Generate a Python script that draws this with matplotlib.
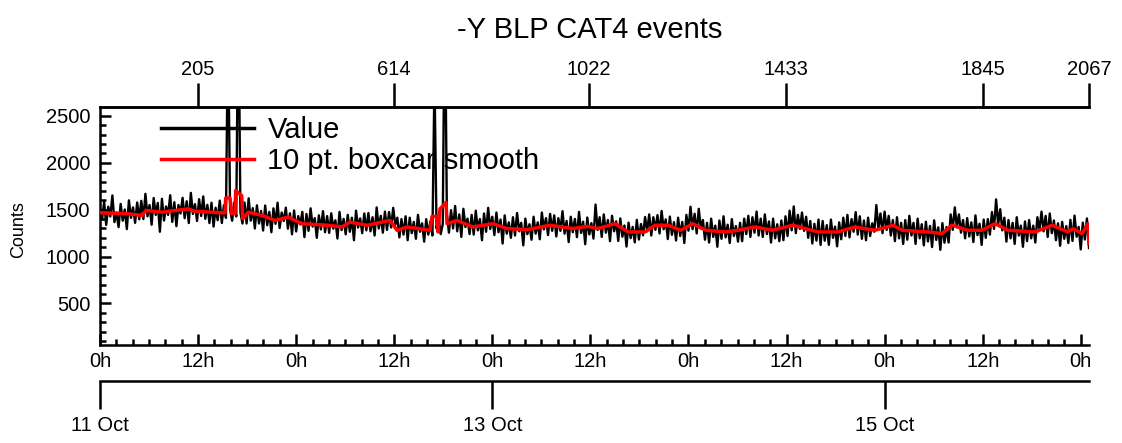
import numpy as np
import matplotlib
matplotlib.use('Agg')
import matplotlib.pyplot as plt
from matplotlib.ticker import MultipleLocator, NullLocator

plt.rcParams['font.family'] = ['Liberation Sans', 'DejaVu Sans']

title = '-Y BLP CAT4 events'
ylabel = 'Counts'
series_labels = ['Value', '10 pt. boxcar smooth']
t_end_hours = 121.0
n_samples = 2067

# raw counts (evenly spaced over the time span)
value_counts = [
    1517, 1398, 1585, 1338, 1532, 1428, 1652, 1368, 1472, 1315,
    1562, 1383, 1502, 1293, 1600, 1413, 1525, 1360, 1577, 1398,
    1595, 1400, 1670, 1430, 1550, 1340, 1625, 1445, 1572, 1265,
    1617, 1385, 1535, 1445, 1655, 1370, 1580, 1325, 1550, 1460,
    1627, 1410, 1590, 1358, 1680, 1455, 1560, 1380, 1612, 1433,
    1642, 1403, 1552, 1358, 1575, 1320, 1522, 1388, 1597, 1358,
    1547, 1413, 3500, 1502, 1383, 1577, 1428, 3900, 1472, 1353,
    1577, 1353, 1622, 1383, 1517, 1300, 1547, 1353, 1487, 1278,
    1545, 1335, 1477, 1260, 1515, 1350, 1575, 1305, 1470, 1380,
    1522, 1298, 1462, 1238, 1492, 1268, 1432, 1343, 1477, 1208,
    1455, 1275, 1515, 1320, 1410, 1200, 1440, 1290, 1485, 1260,
    1432, 1253, 1462, 1298, 1387, 1193, 1477, 1283, 1402, 1238,
    1445, 1265, 1415, 1175, 1490, 1310, 1407, 1250, 1460, 1280,
    1465, 1270, 1420, 1225, 1525, 1300, 1435, 1255, 1480, 1285,
    1475, 1310, 1520, 1340, 1415, 1205, 1400, 1235, 1430, 1175,
    1415, 1250, 1370, 1190, 1445, 1265, 1355, 1160, 1400, 1235,
    1375, 1225, 2900, 1300, 1420, 1240, 1345, 3900, 1450, 1255,
    1495, 1300, 1540, 1270, 1450, 1210, 1510, 1315, 1405, 1240,
    1445, 1235, 1490, 1280, 1400, 1175, 1460, 1265, 1520, 1295,
    1425, 1230, 1470, 1260, 1395, 1140, 1440, 1245, 1365, 1200,
    1420, 1225, 1465, 1270, 1360, 1120, 1405, 1240, 1345, 1180,
    1425, 1245, 1365, 1185, 1470, 1290, 1410, 1230, 1455, 1275,
    1440, 1215, 1410, 1275, 1485, 1245, 1380, 1155, 1425, 1260,
    1402, 1207, 1477, 1252, 1372, 1132, 1417, 1237, 1357, 1192,
    1555, 1285, 1420, 1210, 1450, 1255, 1390, 1165, 1435, 1270,
    1377, 1167, 1407, 1212, 1332, 1107, 1362, 1197, 1317, 1152,
    1392, 1182, 1347, 1227, 1422, 1270, 1450, 1225, 1420, 1285,
    1442, 1247, 1487, 1292, 1397, 1187, 1427, 1232, 1367, 1172,
    1415, 1220, 1370, 1145, 1445, 1277, 1532, 1292, 1457, 1247,
    1510, 1300, 1390, 1180, 1360, 1150, 1405, 1210, 1330, 1105,
    1385, 1190, 1430, 1205, 1340, 1145, 1400, 1220, 1325, 1160,
    1360, 1165, 1405, 1240, 1435, 1210, 1420, 1255, 1480, 1225,
    1405, 1210, 1450, 1240, 1375, 1150, 1405, 1195, 1345, 1165,
    1385, 1175, 1430, 1220, 1490, 1280, 1535, 1250, 1445, 1295,
    1470, 1275, 1425, 1200, 1380, 1140, 1350, 1170, 1395, 1125,
    1380, 1170, 1335, 1125, 1395, 1200, 1320, 1110, 1365, 1185,
    1415, 1220, 1445, 1205, 1400, 1265, 1475, 1235, 1430, 1190,
    1385, 1175, 1415, 1220, 1355, 1265, 1550, 1295, 1460, 1250,
    1480, 1285, 1435, 1225, 1390, 1165, 1420, 1195, 1360, 1135,
    1390, 1180, 1435, 1225, 1360, 1135, 1405, 1195, 1345, 1120,
    1372, 1162, 1327, 1102, 1387, 1178, 1312, 1072, 1357, 1148,
    1315, 1150, 1450, 1285, 1525, 1315, 1450, 1255, 1390, 1195,
    1410, 1215, 1365, 1155, 1440, 1230, 1350, 1125, 1395, 1200,
    1400, 1235, 1475, 1295, 1610, 1340, 1505, 1280, 1415, 1160,
    1390, 1195, 1360, 1135, 1420, 1225, 1330, 1105, 1375, 1165,
    1390, 1195, 1330, 1150, 1420, 1285, 1480, 1270, 1435, 1210,
    1460, 1250, 1385, 1175, 1355, 1115, 1370, 1190, 1325, 1145,
    1392, 1167, 1437, 1212, 1317, 1077, 1362, 1182, 1407, 1092,
]

# 10 pt boxcar smooth
smooth_hours = [
    0.0, 0.24, 3.43, 5.14, 5.63, 7.59, 10.77, 11.62, 14.93, 15.29,
    15.38, 15.91, 16.11, 16.52, 16.60, 17.34, 17.46, 18.14, 19.82, 21.41,
    23.00, 24.71, 27.90, 29.61, 30.59, 32.67, 35.48, 36.34, 37.56, 40.38,
    40.62, 41.23, 41.35, 41.60, 42.33, 42.46, 43.68, 45.64, 48.08, 49.80,
    52.24, 55.06, 57.87, 59.58, 60.93, 63.01, 64.60, 66.68, 67.90, 69.49,
    71.08, 72.52, 74.11, 76.47, 78.06, 80.14, 82.22, 84.79, 86.26, 87.85,
    90.29, 92.37, 94.82, 97.02, 98.12, 101.30, 103.02, 104.24, 106.20, 107.91,
    109.50, 111.09, 114.39, 116.48, 118.43, 119.05, 120.15, 120.88, 121.0,
]
smooth_counts = [
    1470, 1467, 1457, 1439, 1492, 1474, 1509, 1484, 1467, 1467,
    1625, 1625, 1457, 1457, 1704, 1649, 1404, 1474, 1439, 1386,
    1421, 1351, 1334, 1316, 1368, 1334, 1386, 1281, 1316, 1281,
    1428, 1428, 1263, 1509, 1579, 1351, 1386, 1316, 1351, 1299,
    1288, 1334, 1299, 1323, 1299, 1351, 1263, 1263, 1334, 1334,
    1281, 1351, 1281, 1263, 1281, 1316, 1281, 1334, 1299, 1263,
    1263, 1316, 1281, 1334, 1281, 1263, 1246, 1334, 1281, 1281,
    1351, 1281, 1263, 1334, 1263, 1299, 1246, 1351, 1141,
]

hour_ticks = [0, 12, 24, 36, 48, 60, 72, 84, 96, 108, 120]
hour_labels = ['0h', '12h', '0h', '12h', '0h', '12h', '0h', '12h', '0h', '12h', '0h']
date_ticks = [0, 48, 96]
date_labels = ['11 Oct', '13 Oct', '15 Oct']
index_ticks = [205, 614, 1022, 1433, 1845, 2067]

W, H = 1122, 443
fig = plt.figure(figsize=(W / 100, H / 100), dpi=100)
L, R, T, B = 100, 1089, 106.7, 345
ax = fig.add_axes([L / W, 1 - B / H, (R - L) / W, (B - T) / H])

t = np.linspace(0, t_end_hours, len(value_counts))
ax.plot(t, value_counts, color='black', lw=1.7, label=series_labels[0], zorder=2)
ax.plot(smooth_hours, smooth_counts, color='red', lw=2.5, label=series_labels[1], zorder=3)

ax.set_xlim(0, t_end_hours)
ax.set_ylim(57, 2599)

lw = 1.8
for s in ['left', 'bottom', 'top']:
    ax.spines[s].set_linewidth(lw)
ax.spines['right'].set_visible(False)

ax.set_yticks([500, 1000, 1500, 2000, 2500])
ax.yaxis.set_minor_locator(MultipleLocator(100))
ax.set_xticks(hour_ticks, labels=hour_labels)
ax.xaxis.set_minor_locator(MultipleLocator(2))
ax.tick_params(axis='both', which='major', direction='in', length=8, width=lw,
               labelsize=14.5, top=False, right=False)
ax.tick_params(axis='both', which='minor', direction='in', length=4, width=lw,
               top=False, right=False)
ax.tick_params(axis='y', which='major', pad=7)
ax.tick_params(axis='x', which='major', pad=5)

top = ax.secondary_xaxis('top', functions=(lambda h: h * n_samples / t_end_hours,
                                           lambda i: i * t_end_hours / n_samples))
top.set_xticks(index_ticks, labels=[str(v) for v in index_ticks])
top.xaxis.set_minor_locator(NullLocator())
top.tick_params(direction='out', length=17, width=lw, labelsize=14.5, pad=3)
for s in top.spines.values():
    s.set_linewidth(lw)

dax = ax.secondary_xaxis(-0.151)
dax.set_xticks(date_ticks, labels=date_labels)
dax.xaxis.set_minor_locator(NullLocator())
dax.tick_params(direction='out', length=20, width=lw, labelsize=14.5, pad=5)
for s in dax.spines.values():
    s.set_linewidth(lw)

fig.text(590 / W, 1 - 38 / H, title, ha='center', va='baseline', fontsize=21)
fig.text(19 / W, 1 - 230 / H, ylabel, ha='center', va='center', rotation=90, fontsize=13)

leg = ax.legend(loc='upper left', bbox_to_anchor=(161 / W, 1 - 116 / H),
                bbox_transform=fig.transFigure, frameon=False, fontsize=21,
                handlelength=3.2, handletextpad=0.45, labelspacing=0.1,
                borderpad=0, borderaxespad=0)
for line in leg.get_lines():
    line.set_linewidth(2.5)

fig.savefig('out.png', dpi=100)
